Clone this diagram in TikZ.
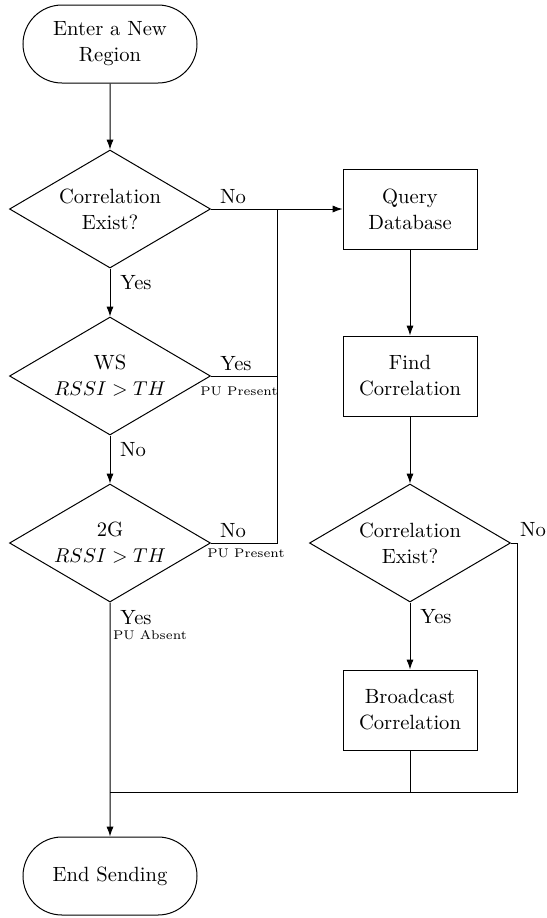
\documentclass[tikz,border=0pt]{standalone}
\usetikzlibrary{shapes.geometric,shapes.misc,arrows.meta}
\begin{document}
\begin{tikzpicture}[x=0.5pt,y=-0.5pt,line width=0.5pt,
  every node/.style={font=\fontsize{10.3}{13}\selectfont},
  term/.style={rounded rectangle, draw, minimum width=87pt, minimum height=39pt, align=center, inner sep=0pt},
  proc/.style={rectangle, draw, minimum width=67pt, minimum height=40pt, align=center, inner sep=0pt},
  dec/.style={diamond, draw, aspect=1.69, minimum width=100.5pt, minimum height=59pt, inner sep=0pt, align=center},
  lab/.style={inner sep=0pt},
  small/.style={inner sep=0pt, font=\fontsize{6.3}{8}\selectfont},
  arr/.style={-{Latex[length=5pt,width=3.6pt]}}]
\useasboundingbox (0,0) rectangle (547,918);
% nodes
\node[term] (start) at (110,44) {Enter a New\\Region};
\node[dec] (d1) at (110,209) {Correlation\\Exist?};
\node[dec] (d2) at (110,376) {WS\\$RSSI > TH$};
\node[dec] (d3) at (110,543) {2G\\$RSSI > TH$};
\node[term] (endn) at (110,876) {End Sending};
\node[proc] (q) at (410,209) {Query\\Database};
\node[proc] (f) at (410,376) {Find\\Correlation};
\node[dec] (d4) at (410,543) {Correlation\\Exist?};
\node[proc] (b) at (410,710) {Broadcast\\Correlation};
% junctions
\coordinate (j1) at (277,209);
\coordinate (j2) at (277,376);
\coordinate (j3) at (277,543);
\coordinate (c4) at (517,543);
\coordinate (jb) at (110,792);
\coordinate (jbb) at (410,792);
% connectors
\draw[arr] (start) -- (d1);
\draw[arr] (d1) -- (d2);
\draw[arr] (d2) -- (d3);
\draw[arr] (d3) -- (endn);
\draw[arr] (d1.east) -- (q.west);
\draw (d2.east) -- (j2);
\draw (d3.east) -- (j3) -- (j1);
\draw[arr] (q) -- (f);
\draw[arr] (f) -- (d4);
\draw[arr] (d4) -- (b);
\draw (d4.east) -- (c4) |- (jb);
\draw (b.south) -- (jbb);
% labels
\node[lab] (l1) at (233,197) {No};
\node[lab] (l2) at (136,283) {Yes};
\node[lab] (l3) at (236,364) {Yes};
\node[small] (l4) at (239,391) {PU Present};
\node[lab] (l5) at (133,450) {No};
\node[lab] (l6) at (233,531) {No};
\node[small] (l7) at (246,553) {PU Present};
\node[lab] (l8) at (136,618) {Yes};
\node[small] (l9) at (150,635) {PU Absent};
\node[lab] (l10) at (436,617) {Yes};
\node[lab] (l11) at (533,530) {No};
\end{tikzpicture}
\end{document}
